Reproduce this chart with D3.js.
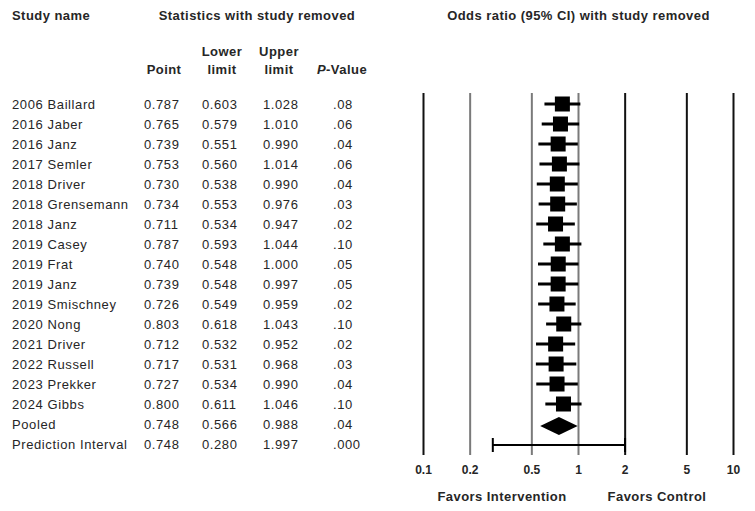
<!DOCTYPE html>
<html>
<head>
<meta charset="utf-8">
<script src="https://cdn.jsdelivr.net/npm/d3@7"></script>
<style>
  body { margin: 0; background: #fff; }
  svg text { font-family: "Liberation Sans", Arial, sans-serif; fill: #262626; }
</style>
</head>
<body>
<svg id="chart"></svg>
<script>
const studies = ['2006 Baillard', '2016 Jaber', '2016 Janz', '2017 Semler', '2018 Driver',
  '2018 Grensemann', '2018 Janz', '2019 Casey', '2019 Frat', '2019 Janz', '2019 Smischney',
  '2020 Nong', '2021 Driver', '2022 Russell', '2023 Prekker', '2024 Gibbs', 'Pooled',
  'Prediction Interval'];
const points = [0.787, 0.765, 0.739, 0.753, 0.730, 0.734, 0.711, 0.787, 0.740, 0.739, 0.726,
  0.803, 0.712, 0.717, 0.727, 0.800, 0.748, 0.748];
const lowers = [0.603, 0.579, 0.551, 0.560, 0.538, 0.553, 0.534, 0.593, 0.548, 0.548, 0.549,
  0.618, 0.532, 0.531, 0.534, 0.611, 0.566, 0.280];
const uppers = [1.028, 1.010, 0.990, 1.014, 0.990, 0.976, 0.947, 1.044, 1.000, 0.997, 0.959,
  1.043, 0.952, 0.968, 0.990, 1.046, 0.988, 1.997];
const pValues = ['.08', '.06', '.04', '.06', '.04', '.03', '.02', '.10', '.05', '.05', '.02',
  '.10', '.02', '.03', '.04', '.10', '.04', '.000'];
const ticks = [0.1, 0.2, 0.5, 1, 2, 5, 10];

const width = 755;
const height = 511;

const svg = d3.select('#chart')
  .attr('width', width)
  .attr('height', height);

const x = d3.scaleLog()
  .domain([0.1, 10])
  .range([423.5, 733.5]);

const y = d3.scaleLinear()
  .domain([0, studies.length - 1])
  .range([104, 444]);

const rows = studies.map((name, i) => ({
  name, point: points[i], lower: lowers[i], upper: uppers[i], p: pValues[i], i
}));
const studyRows = rows.slice(0, 16);
const pooled = rows[16];
const predict = rows[17];

// Headers
const bold = (sel) => sel.attr('font-weight', 'bold').attr('font-size', 13).attr('letter-spacing', 0.45);
bold(svg.append('text').attr('x', 12).attr('y', 20).text('Study name'));
bold(svg.append('text').attr('x', 257).attr('y', 20).attr('text-anchor', 'middle')
  .text('Statistics with study removed'));
bold(svg.append('text').attr('x', x(1)).attr('y', 20).attr('text-anchor', 'middle')
  .text('Odds ratio (95% CI) with study removed'));

const cols = [
  {key: 'point', x: 144, head: ['', 'Point'], hx: 164},
  {key: 'lower', x: 202, head: ['Lower', 'limit'], hx: 222},
  {key: 'upper', x: 263, head: ['Upper', 'limit'], hx: 279},
  {key: 'p', x: 333, head: ['', 'P-Value'], hx: 342}
];

cols.forEach(c => {
  c.head.forEach((h, k) => {
    if (!h) return;
    const t = bold(svg.append('text').attr('x', c.hx).attr('y', k === 0 ? 56 : 74)
      .attr('text-anchor', 'middle'));
    if (h === 'P-Value') {
      t.append('tspan').attr('font-style', 'italic').text('P');
      t.append('tspan').text('-Value');
    } else {
      t.text(h);
    }
  });
});

// Table rows
const tbl = svg.append('g')
  .attr('font-size', 13)
  .attr('letter-spacing', 0.6);

tbl.selectAll('text.name')
  .data(rows)
  .join('text')
  .attr('class', 'name')
  .attr('x', 12)
  .attr('y', d => y(d.i) + 4.5)
  .text(d => d.name);

cols.forEach(c => {
  tbl.selectAll(`text.${c.key}`)
    .data(rows)
    .join('text')
    .attr('class', c.key)
    .attr('x', c.x)
    .attr('y', d => y(d.i) + 4.5)
    .text(d => c.key === 'p' ? d.p : d3.format('.3f')(d[c.key]));
});

// Reference lines
const grey = new Set([0.2, 0.5, 1]);
svg.append('g')
  .selectAll('line')
  .data(ticks)
  .join('line')
  .attr('x1', d => x(d))
  .attr('x2', d => x(d))
  .attr('y1', 93)
  .attr('y2', 455)
  .attr('stroke', d => grey.has(d) ? '#7a7a7a' : '#111')
  .attr('stroke-width', 2);

svg.append('g')
  .selectAll('text')
  .data(ticks)
  .join('text')
  .attr('x', d => x(d))
  .attr('y', 474)
  .attr('text-anchor', 'middle')
  .attr('font-size', 12)
  .attr('font-weight', 'bold')
  .text(d => d);

bold(svg.append('text').attr('x', 502).attr('y', 501).attr('text-anchor', 'middle')
  .attr('font-size', 12.5).attr('letter-spacing', 0.3).text('Favors Intervention'));
bold(svg.append('text').attr('x', 657).attr('y', 501).attr('text-anchor', 'middle')
  .attr('font-size', 12.5).attr('letter-spacing', 0.3).text('Favors Control'));

// Study CIs and squares
const marks = svg.append('g');
marks.selectAll('line.ci')
  .data(studyRows)
  .join('line')
  .attr('class', 'ci')
  .attr('x1', d => x(d.lower))
  .attr('x2', d => x(d.upper))
  .attr('y1', d => y(d.i))
  .attr('y2', d => y(d.i))
  .attr('stroke', '#000')
  .attr('stroke-width', 3);

const sq = 15;
marks.selectAll('rect')
  .data(studyRows)
  .join('rect')
  .attr('x', d => x(d.point) - sq / 2)
  .attr('y', d => y(d.i) - sq / 2)
  .attr('width', sq)
  .attr('height', sq)
  .attr('fill', '#000');

// Pooled diamond
const py = y(pooled.i) + 2;
marks.append('path')
  .attr('d', `M${x(pooled.lower)},${py}L${x(pooled.point)},${py - 9}L${x(pooled.upper)},${py}L${x(pooled.point)},${py + 9}Z`)
  .attr('fill', '#000');

// Prediction interval
const piy = y(predict.i) + 1;
marks.append('line')
  .attr('x1', x(predict.lower))
  .attr('x2', x(predict.upper))
  .attr('y1', piy)
  .attr('y2', piy)
  .attr('stroke', '#000')
  .attr('stroke-width', 2);
marks.selectAll('line.cap')
  .data([predict.lower, predict.upper])
  .join('line')
  .attr('class', 'cap')
  .attr('x1', d => x(d))
  .attr('x2', d => x(d))
  .attr('y1', piy - 7)
  .attr('y2', piy + 7)
  .attr('stroke', '#000')
  .attr('stroke-width', 2);
</script>
</body>
</html>
